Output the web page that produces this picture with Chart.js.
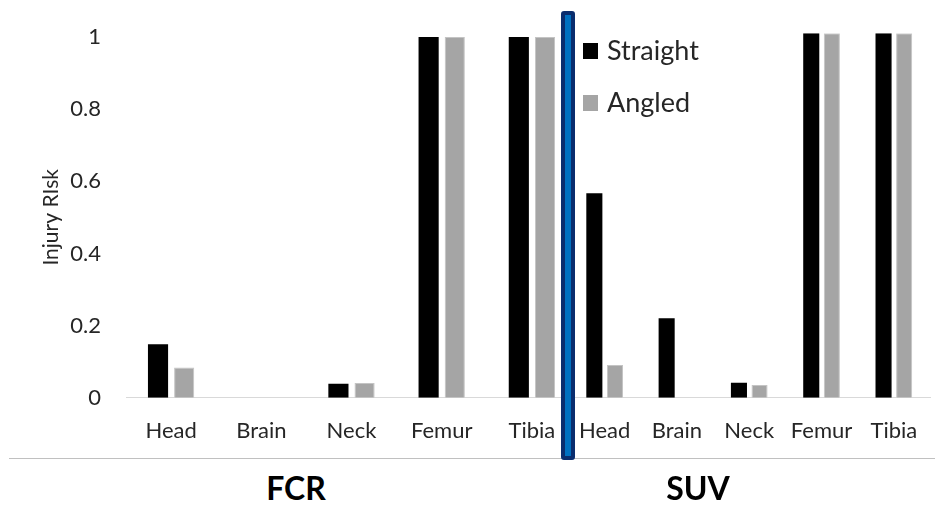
<!DOCTYPE html>
<html>
<head>
<meta charset="utf-8">
<script src="https://cdn.jsdelivr.net/npm/chart.js@4.4.0/dist/chart.umd.min.js"></script>
<style>
  body { margin: 0; background: #fff; width: 940px; height: 505px; overflow: hidden; position: relative; font-family: Lato, sans-serif; }
  #leftWrap { position: absolute; left: 0; top: 0; width: 580px; height: 460px; }
  #rightWrap { position: absolute; left: 560px; top: 0; width: 380px; height: 460px; }
  .rule { position: absolute; left: 9px; top: 458px; width: 926px; height: 1px; background: #c0c0c0; }
  .divider { position: absolute; left: 561px; top: 11px; width: 6px; height: 441px; background: #0070c0; border: 4px solid #0a2d6e; border-radius: 3px; }
  .group { position: absolute; top: 468px; width: 200px; line-height: 40px; text-align: center; font: bold 32px Lato, sans-serif; color: #000; }
</style>
</head>
<body>
<div id="leftWrap"><canvas id="fcrChart" width="580" height="460"></canvas></div>
<div id="rightWrap"><canvas id="suvChart" width="380" height="460"></canvas></div>
<div class="rule"></div>
<div class="divider"></div>
<div class="group" style="left:196px">FCR</div>
<div class="group" style="left:598px">SUV</div>

<script>
// data
const parts = ["Head", "Brain", "Neck", "Femur", "Tibia"];
const seriesNames = ["Straight", "Angled"];
const fcrStraight = [0.148, 0, 0.039, 1, 1];
const fcrAngled = [0.084, 0, 0.041, 1, 1];
const suvStraight = [0.561, 0.218, 0.041, 1, 1];
const suvAngled = [0.09, 0, 0.035, 1, 1];
const yTicks = [0, 0.2, 0.4, 0.6, 0.8, 1];

const textColor = "#262626";
const labelFont = { family: "Lato", size: 22 };

function makeDatasets(straight, angled) {
    return [
        { label: seriesNames[0], data: straight, backgroundColor: "#000000", borderWidth: 0 },
        { label: seriesNames[1], data: angled, backgroundColor: "#a5a5a5", borderColor: "#c4c4c4", borderWidth: 1 }
    ];
}

function xScale() {
    return {
        grid: { display: false },
        border: { display: true, color: "#d9d9d9", width: 1 },
        ticks: { font: labelFont, color: textColor, padding: 12, maxRotation: 0, autoSkip: false },
        afterFit: s => { s.height = 62.3; }
    };
}

// legend drawn inside the SUV panel, stacked
const stackedLegend = {
    id: "stackedLegend",
    afterDraw(chart) {
        const ctx = chart.ctx;
        ctx.save();
        chart.data.datasets.forEach((ds, i) => {
            const y = 43 + i * 52;
            ctx.fillStyle = ds.backgroundColor;
            ctx.fillRect(23, y, 15, 16);
            ctx.fillStyle = textColor;
            ctx.font = "27px Lato";
            ctx.textBaseline = "middle";
            ctx.fillText(ds.label, 47, y + 8);
        });
        ctx.restore();
    }
};

new Chart(document.getElementById("fcrChart"), {
    type: "bar",
    data: { labels: parts, datasets: makeDatasets(fcrStraight, fcrAngled) },
    options: {
        responsive: false,
        animation: false,
        categoryPercentage: 0.58,
        barPercentage: 0.77,
        layout: { padding: { top: 37, right: 3, left: 0, bottom: 0 } },
        plugins: { legend: { display: false }, tooltip: { enabled: false } },
        scales: {
            x: xScale(),
            y: {
                min: 0,
                max: 1,
                grid: { display: false },
                border: { display: false },
                afterBuildTicks: s => { s.ticks = yTicks.map(v => ({ value: v })); },
                ticks: { font: labelFont, color: textColor, padding: 17, callback: v => String(v) },
                title: { display: true, text: "Injury RIsk", color: textColor, font: { family: "Lato", size: 21 }, padding: { top: 39 } },
                afterFit: s => { s.width = 126; }
            }
        }
    }
});

new Chart(document.getElementById("suvChart"), {
    type: "bar",
    data: { labels: parts, datasets: makeDatasets(suvStraight, suvAngled) },
    options: {
        responsive: false,
        animation: false,
        categoryPercentage: 0.57,
        barPercentage: 0.78,
        layout: { padding: { top: 33.3, right: 10, left: 8.5, bottom: 0 } },
        plugins: { legend: { display: false }, tooltip: { enabled: false } },
        scales: {
            x: xScale(),
            y: { display: false, min: 0, max: 1 }
        }
    },
    plugins: [stackedLegend]
});
</script>
</body>
</html>
